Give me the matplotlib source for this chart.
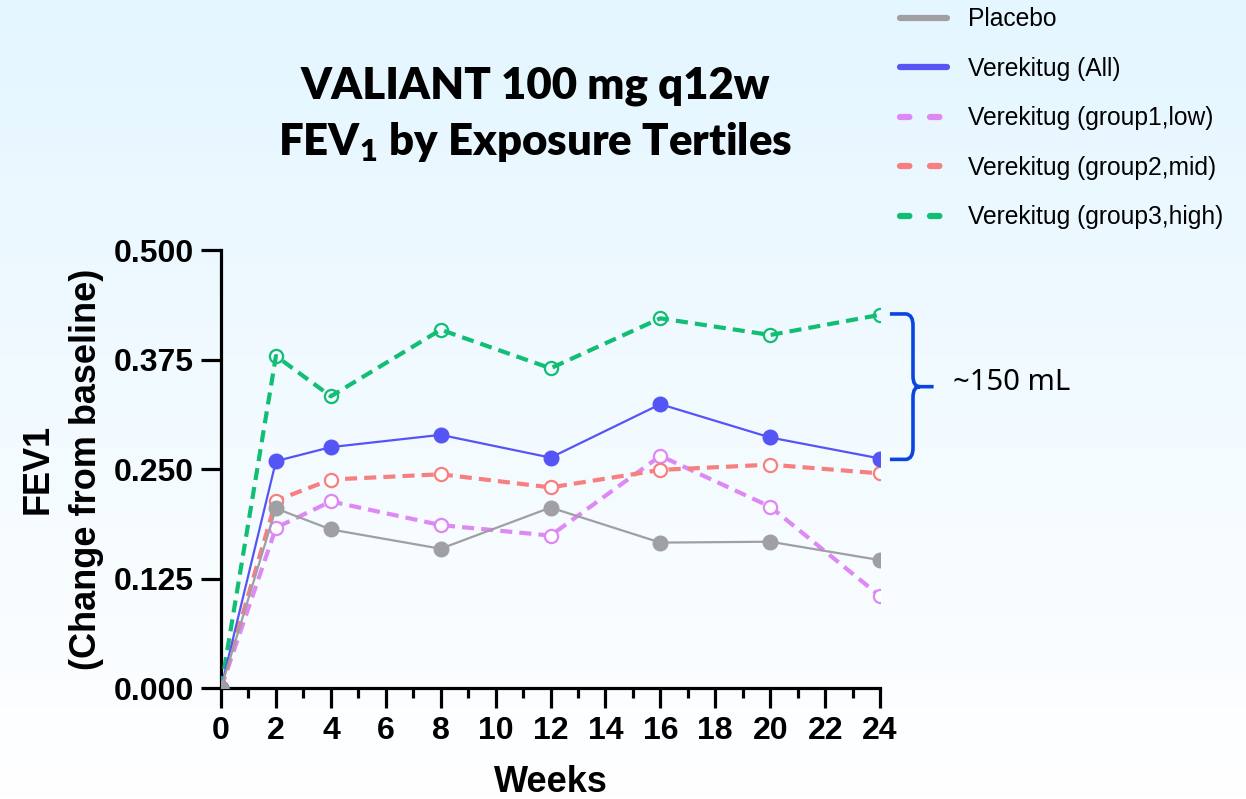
import numpy as np
import matplotlib
matplotlib.use("Agg")
import matplotlib.pyplot as plt
from matplotlib.lines import Line2D
from matplotlib.path import Path
from matplotlib.patches import PathPatch
from matplotlib.colors import LinearSegmentedColormap

plt.rcParams['mathtext.fontset'] = 'custom'
plt.rcParams['mathtext.rm'] = 'Lato:heavy'
plt.rcParams['mathtext.it'] = 'Lato:heavy'
plt.rcParams['mathtext.bf'] = 'Lato:heavy'

weeks = [0, 2, 4, 8, 12, 16, 20, 24]
placebo = [0.0, 0.205, 0.181, 0.159, 0.206, 0.166, 0.167, 0.146]
ver_all = [0.0, 0.259, 0.275, 0.289, 0.263, 0.324, 0.286, 0.262]
group1_low = [0.0, 0.183, 0.213, 0.186, 0.174, 0.265, 0.207, 0.105]
group2_mid = [0.0, 0.214, 0.238, 0.244, 0.229, 0.249, 0.255, 0.245]
group3_high = [0.0, 0.379, 0.333, 0.409, 0.365, 0.422, 0.403, 0.426]

labels = ["Placebo", "Verekitug (All)", "Verekitug (group1,low)",
          "Verekitug (group2,mid)", "Verekitug (group3,high)"]
yticks = [0.0, 0.125, 0.25, 0.375, 0.5]
xticks = list(range(0, 25, 2))

c_gray = "#A0A0A4"
c_blue = "#5555F5"
c_purple = "#DD88F5"
c_red = "#F77F7F"
c_green = "#12BD74"
c_brace = "#0A45E0"

fig = plt.figure(figsize=(12.46, 7.99), dpi=100)

# background gradient
bg = fig.add_axes([0, 0, 1, 1], zorder=-10)
cmap = LinearSegmentedColormap.from_list("bg", ["#FFFFFF", "#E4F6FF"])
grad = np.linspace(0, 1, 256).reshape(-1, 1)
bg.imshow(grad, aspect="auto", cmap=cmap, origin="lower", extent=[0, 1, 0, 1])
bg.axis("off")

ax = fig.add_axes([0.1774, 0.1389, 0.7063 - 0.1774, 0.6871 - 0.1389])
ax.patch.set_alpha(0)

dash = (2.9, 1.7)
ax.plot(weeks, ver_all, color=c_blue, lw=1.6, marker="o", ms=10.5, mfc=c_blue, mec=c_blue, zorder=4)
ax.plot(weeks, group1_low, color=c_purple, lw=3, ls=(0, dash), marker="o", ms=9.5,
        mfc="white", mec=c_purple, mew=1.6, zorder=3)
ax.plot(weeks, group2_mid, color=c_red, lw=3, ls=(0, dash), marker="o", ms=9.5,
        mfc="white", mec=c_red, mew=1.6, zorder=3)
ax.plot(weeks, group3_high, color=c_green, lw=3, ls=(0, dash), marker="o", ms=9.5,
        mfc="none", mec=c_green, mew=1.6, zorder=3)
ax.plot(weeks, placebo, color=c_gray, lw=1.6, marker="o", ms=10.5, mfc=c_gray, mec=c_gray, zorder=5)

ax.set_xlim(0, 24)
ax.set_ylim(0, 0.5)
ax.set_xticks(xticks)
ax.set_xticks(range(0, 25), minor=True)
ax.set_yticks(yticks)
ax.set_yticklabels([f"{v:.3f}" for v in yticks])
for s in ["top", "right"]:
    ax.spines[s].set_visible(False)
for s in ["left", "bottom"]:
    ax.spines[s].set_linewidth(2.3)
ax.tick_params(axis="both", which="major", width=2.3, length=14.5, labelsize=23, pad=5)
ax.tick_params(axis="x", which="major", pad=6)
ax.tick_params(axis="x", which="minor", width=2.3, length=7.5)
for lab in ax.get_xticklabels() + ax.get_yticklabels():
    lab.set_fontfamily("Liberation Sans")
    lab.set_fontweight("bold")

ax.set_xlabel("Weeks", fontsize=26, fontweight="bold", family="Liberation Sans", labelpad=13)
ax.set_ylabel("FEV1\n(Change from baseline)", fontsize=26, fontweight="bold",
              family="Liberation Sans", labelpad=7, linespacing=1.5)

# brace
x0, x1, xt = 24.36, 25.2, 25.95
yt, yb = 0.426, 0.262
ym = (yt + yb) / 2
r = 0.012
verts = [(x0, yt + 0.001), (x1 - 0.25, yt + 0.001), (x1, yt), (x1, yt - r),
         (x1, ym + r), (x1, ym), (x1 + 0.25, ym),
         (xt, ym),
         (x1 + 0.25, ym), (x1, ym), (x1, ym - r),
         (x1, yb + r), (x1, yb), (x1 - 0.25, yb - 0.001), (x0, yb - 0.001)]
codes = [Path.MOVETO, Path.LINETO, Path.CURVE3, Path.CURVE3,
         Path.LINETO, Path.CURVE3, Path.CURVE3,
         Path.LINETO,
         Path.MOVETO, Path.CURVE3, Path.CURVE3,
         Path.LINETO, Path.CURVE3, Path.CURVE3, Path.LINETO]
ax.add_patch(PathPatch(Path(verts, codes), fill=False, ec=c_brace, lw=2.6, clip_on=False))
ax.text(26.65, ym + 0.005, "~150 mL", fontsize=21, family="Noto Sans", va="center", ha="left")

# title
fig.text(0.4295, 0.892, "VALIANT 100 mg q12w", fontsize=31.5, fontweight="heavy",
         family="Lato", ha="center", va="center")
fig.text(0.4295, 0.822, r"FEV$_{1}$ by Exposure Tertiles", fontsize=31.5, fontweight="heavy",
         family="Lato", ha="center", va="center")

# legend
dl = (1.5, 3.3)
handles = [
    Line2D([], [], color=c_gray, lw=4.5, solid_capstyle="round"),
    Line2D([], [], color=c_blue, lw=4.5, solid_capstyle="round"),
    Line2D([], [], color=c_purple, lw=4.5, ls=(0, dl), dash_capstyle="round"),
    Line2D([], [], color=c_red, lw=4.5, ls=(0, dl), dash_capstyle="round"),
    Line2D([], [], color=c_green, lw=4.5, ls=(0, dl), dash_capstyle="round"),
]
fig.legend(handles, labels, loc="upper left", bbox_to_anchor=(0.7223, 0.991),
           frameon=False, borderpad=0, borderaxespad=0, handlelength=1.92,
           handletextpad=0.85, labelspacing=1.04,
           prop={"family": "Liberation Sans", "size": 17.7})

fig.savefig("out.png", dpi=100)
